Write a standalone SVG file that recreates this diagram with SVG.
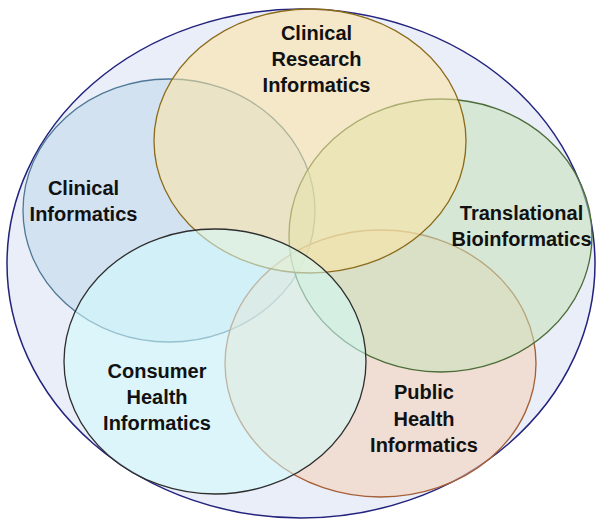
<svg xmlns="http://www.w3.org/2000/svg" width="597" height="520" viewBox="0 0 597 520">
  <style>
    .set { fill-opacity: 0.55; stroke-width: 1.3; }
    .lbl { font-family: "Liberation Sans", Arial, sans-serif; font-weight: bold; font-size: 20px; fill: #111111; text-anchor: middle; }
  </style>
  <rect x="0" y="0" width="597" height="520" fill="#ffffff"/>
  <g id="outer">
    <ellipse cx="301" cy="263.5" rx="294" ry="254.5" fill="#E9EEF8" stroke="#23237E" stroke-width="1.5"/>
  </g>
  <g id="clinical-informatics">
    <ellipse class="set" cx="169" cy="210.5" rx="146" ry="131.5" fill="#C1D8EB" stroke="#4E7896"/>
    <text class="lbl" x="83.5" y="195">Clinical</text>
    <text class="lbl" x="83.5" y="221">Informatics</text>
  </g>
  <g id="public-health-informatics">
    <ellipse class="set" cx="380.5" cy="363.5" rx="155.5" ry="133.5" fill="#F6CFB5" stroke="#A65E34"/>
    <text class="lbl" x="424" y="399">Public</text>
    <text class="lbl" x="424" y="426">Health</text>
    <text class="lbl" x="424" y="452">Informatics</text>
  </g>
  <g id="translational-bioinformatics">
    <ellipse class="set" cx="440.5" cy="235.5" rx="151.5" ry="136.5" fill="#C6E1BA" stroke="#4C6C38"/>
    <text class="lbl" x="521.5" y="220">Translational</text>
    <text class="lbl" x="521.5" y="246">Bioinformatics</text>
  </g>
  <g id="clinical-research-informatics">
    <ellipse class="set" cx="310" cy="141" rx="156" ry="132" fill="#FDE3A1" stroke="#8B6A1A"/>
    <text class="lbl" x="316.5" y="40">Clinical</text>
    <text class="lbl" x="316.5" y="66">Research</text>
    <text class="lbl" x="316.5" y="92">Informatics</text>
  </g>
  <g id="consumer-health-informatics">
    <ellipse class="set" cx="215" cy="361.5" rx="151" ry="132.5" fill="#D1FCFC" stroke="#2E2E2E"/>
    <text class="lbl" x="157" y="378">Consumer</text>
    <text class="lbl" x="157" y="404">Health</text>
    <text class="lbl" x="157" y="430">Informatics</text>
  </g>
</svg>
